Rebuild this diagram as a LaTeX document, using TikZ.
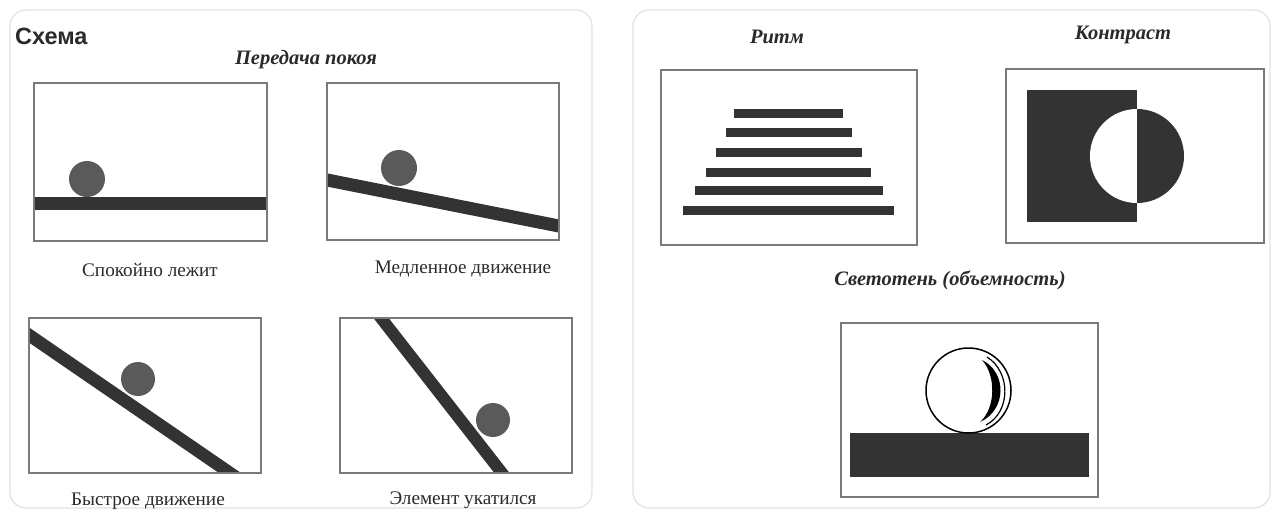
\documentclass[tikz,border=0pt]{standalone}
\usepackage{fontspec}
\setmainfont{Liberation Serif}
\newfontfamily\headsans{Liberation Sans}
\definecolor{panelgray}{HTML}{E2E2E2}
\definecolor{framegray}{HTML}{7A7A7A}
\definecolor{bardark}{HTML}{333333}
\definecolor{balldark}{HTML}{5A5A5A}
\definecolor{inkgray}{HTML}{2A2A2A}
\tikzset{
  panel/.style={draw=panelgray, line width=1.2pt, rounded corners=16pt},
  frame/.style={draw=framegray, line width=1.3pt},
  barfill/.style={fill=bardark},
  ballfill/.style={fill=balldark},
  caption/.style={font=\fontsize{19.2}{21}\selectfont, text=inkgray, inner sep=0pt},
  heading/.style={font=\fontsize{20.5}{22}\selectfont\bfseries\itshape, text=inkgray, inner sep=0pt},
}
\begin{document}
\begin{tikzpicture}[x=1pt,y=-1pt]
\useasboundingbox (0,0) rectangle (1274,512);
\fill[white] (0,0) rectangle (1274,512);

% panels
\draw[panel] (10,10) rectangle (592,508);
\draw[panel] (633,10) rectangle (1270,508);

% titles
\node[anchor=west, inner sep=0pt, font=\headsans\bfseries\fontsize{23.5}{26}\selectfont, text=inkgray] (schema) at (15,36) {Схема};
\node[heading] (peredacha) at (306,60) {Передача покоя};

% box 1 : calm
\fill[barfill] (34,197) rectangle (267,210);
\fill[ballfill] (87,179) circle[radius=18];
\draw[frame] (34,83) rectangle (267,241);
\node[caption] (lbl1) at (150,270) {Спокойно лежит};

% box 2 : slow motion
\begin{scope}
  \clip (327,83) rectangle (559,240);
  \draw[bardark, line width=13pt] (300,174.6) -- (590,232.2);
\end{scope}
\fill[ballfill] (399,168) circle[radius=18];
\draw[frame] (327,83) rectangle (559,240);
\node[caption] (lbl2) at (463,269) {Медленное движение};

% box 3 : fast motion
\begin{scope}
  \clip (29,318) rectangle (261,473);
  \draw[bardark, line width=12.5pt] (0,315.1) -- (280,507.3);
\end{scope}
\fill[ballfill] (138,379) circle[radius=17];
\draw[frame] (29,318) rectangle (261,473);
\node[caption] (lbl3) at (148,501) {Быстрое движение};

% box 4 : rolled away
\begin{scope}
  \clip (340,318) rectangle (572,473);
  \draw[bardark, line width=12pt] (365.4,298) -- (517.6,493);
\end{scope}
\fill[ballfill] (493,420) circle[radius=17];
\draw[frame] (340,318) rectangle (572,473);
\node[caption] (lbl4) at (463,500) {Элемент укатился};

% rhythm
\node[heading] (ritm) at (777,37) {Ритм};
\fill[barfill] (734,109) rectangle (843,117.5);
\fill[barfill] (726,128) rectangle (852,136.5);
\fill[barfill] (716,148) rectangle (862,156.5);
\fill[barfill] (706,168) rectangle (871,176.5);
\fill[barfill] (695,186) rectangle (883,194.5);
\fill[barfill] (683,206) rectangle (894,214.5);
\draw[frame] (661,70) rectangle (917,245);

% contrast
\node[heading] (kontrast) at (1123,35) {Контраст};
\fill[bardark] (1027,90) rectangle (1137,222);
\begin{scope}
  \clip (1080,100) rectangle (1137,215);
  \fill[white] (1137,156) circle[radius=47];
\end{scope}
\begin{scope}
  \clip (1137,100) rectangle (1200,215);
  \fill[bardark] (1137,156) circle[radius=47];
\end{scope}
\draw[frame] (1006,69) rectangle (1264,243);

% chiaroscuro
\node[heading] (svetoten) at (950,280) {Светотень (объемность)};
\fill[bardark] (850,433) rectangle (1089,477);
\draw[black, line width=1.5pt, fill=white] (968.5,390.5) circle[radius=42.5];
\fill[black] (982,360) .. controls (1007,372) and (1007,410) .. (980,422)
             .. controls (996,408) and (996,375) .. (982,360) -- cycle;
\draw[black, line width=1.2pt] (987,357) .. controls (1011,372) and (1011,412) .. (986,425);
\draw[frame] (841,323) rectangle (1098,497);
\end{tikzpicture}
\end{document}
